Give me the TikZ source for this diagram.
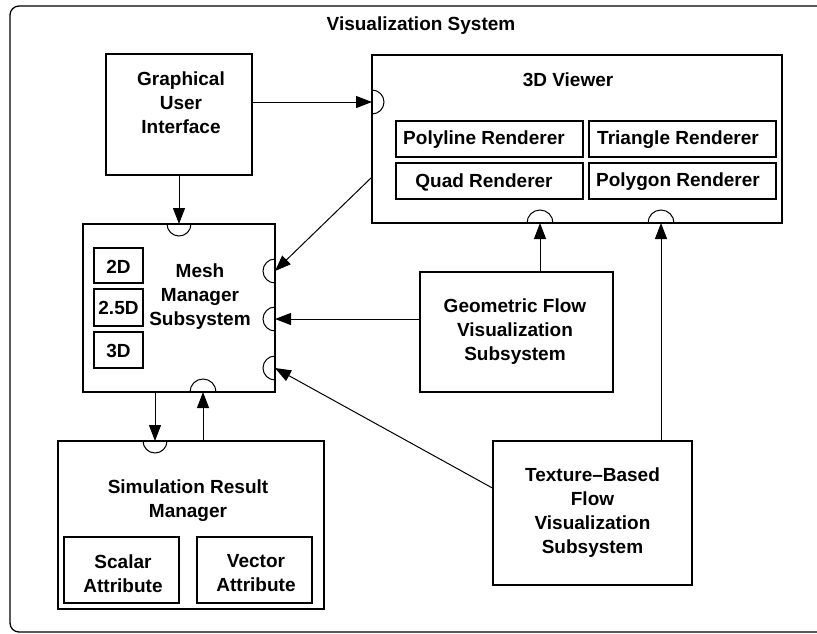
\documentclass[tikz,border=0pt]{standalone}
\usepackage{fontspec}
\setmainfont{Liberation Sans}
\usetikzlibrary{arrows.meta,calc}
\begin{document}
\begin{tikzpicture}[x=1pt,y=-1pt,
  box/.style={draw=black, line width=1.3pt, inner sep=0pt},
  subbox/.style={draw=black, line width=1.1pt, inner sep=0pt},
  txt/.style={font=\fontsize{19}{24}\selectfont\bfseries, align=center, inner sep=0pt},
  conn/.style={line width=1pt, -{Triangle[length=16pt,width=12pt]}},
  port/.style={line width=1pt}]
\useasboundingbox (0,0) rectangle (817,633);
\clip (0,0) rectangle (817,633);
% outer frame
\draw[line width=1.3pt, rounded corners=9pt] (10,6) rectangle (840,632);
\node[txt] (title) at (421,26) {Visualization System};

% boxes
\node[box, minimum width=146, minimum height=121] (gui) at (179,114.5) {};
\node[box, minimum width=410, minimum height=168] (viewer) at (577,139) {};
\node[subbox, minimum width=187, minimum height=36] (poly) at (489.5,139) {};
\node[subbox, minimum width=187, minimum height=36] (tri) at (682.5,139) {};
\node[subbox, minimum width=187, minimum height=36] (quad) at (489.5,181) {};
\node[subbox, minimum width=187, minimum height=36] (polyg) at (682.5,181) {};
\node[box, minimum width=192, minimum height=168] (mesh) at (179,308) {};
\node[subbox, minimum width=49, minimum height=35] (m2d) at (118.5,265.5) {};
\node[subbox, minimum width=49, minimum height=37] (m25d) at (118.5,307.5) {};
\node[subbox, minimum width=49, minimum height=36] (m3d) at (118.5,350) {};
\node[box, minimum width=193, minimum height=120] (geo) at (516.5,332) {};
\node[box, minimum width=199, minimum height=144] (tex) at (592.5,513) {};
\node[box, minimum width=266, minimum height=168] (sim) at (191,525) {};
\node[subbox, minimum width=115, minimum height=66] (scal) at (121.5,570) {};
\node[subbox, minimum width=115, minimum height=66] (vect) at (254.5,570) {};

% texts
\node[txt] (tgui) at (181,103) {Graphical\\User\\Interface};
\node[txt] (tviewer) at (568,80) {3D Viewer};
\node[txt] (tpoly) at (484,140) {Polyline Renderer};
\node[txt] (ttri) at (678,140) {Triangle Renderer};
\node[txt] (tquad) at (484,182) {Quad Renderer};
\node[txt] (tpolyg) at (678,182) {Polygon Renderer};
\node[txt] (tmesh) at (200,297) {Mesh\\Manager\\Subsystem};
\node[txt] (t2d) at (118.5,266.5) {2D};
\node[txt] (t25d) at (118.5,308) {2.5D};
\node[txt] (t3d) at (118.5,350.5) {3D};
\node[txt] (tgeo) at (515,332) {Geometric Flow\\Visualization\\Subsystem};
\node[txt] (ttex) at (592.5,513) {Texture–Based\\Flow\\Visualization\\Subsystem};
\node[txt] (tsim) at (188,501) {Simulation Result\\Manager};
\node[txt] (tscal) at (123,573.5) {Scalar\\Attribute};
\node[txt] (tvect) at (256,573.5) {Vector\\Attribute};

% ports
\coordinate (pv1) at (372,102);
\coordinate (pv2) at (540,223);
\coordinate (pv3) at (661,223);
\coordinate (pm0) at (179,224);
\coordinate (pm1) at (275,271);
\coordinate (pm2) at (275,319);
\coordinate (pm3) at (275,368);
\coordinate (pm4) at (203,392);
\coordinate (ps0) at (155,441);

\draw[port] ([yshift=12pt]pv1) arc[start angle=90, end angle=-90, radius=12pt];
\draw[port] ([xshift=-13pt]pv2) arc[start angle=180, end angle=0, radius=13pt];
\draw[port] ([xshift=-13pt]pv3) arc[start angle=180, end angle=0, radius=13pt];
\draw[port] ([xshift=-12pt]pm0) arc[start angle=180, end angle=360, radius=12pt];
\draw[port] ([yshift=12pt]pm1) arc[start angle=90, end angle=270, radius=12pt];
\draw[port] ([yshift=12pt]pm2) arc[start angle=90, end angle=270, radius=12pt];
\draw[port] ([yshift=12pt]pm3) arc[start angle=90, end angle=270, radius=12pt];
\draw[port] ([xshift=-13pt]pm4) arc[start angle=180, end angle=0, radius=13pt];
\draw[port] ([xshift=-12pt]ps0) arc[start angle=180, end angle=360, radius=12pt];

% connectors
\draw[conn] (gui.east |- pv1) -- (pv1);
\draw[conn] (gui.south) -- (pm0);
\draw[conn] ([yshift=46pt]viewer.south west) -- (pm1);
\draw[conn] (geo.west |- pm2) -- (pm2);
\draw[conn] (pv2 |- geo.north) -- (pv2);
\draw[conn] (pv3 |- tex.north) -- (pv3);
\draw[conn] ([yshift=25pt]tex.west) -- (pm3);
\draw[conn] (ps0 |- mesh.south) -- (ps0);
\draw[conn] (pm4 |- sim.north) -- (pm4);
\end{tikzpicture}
\end{document}
